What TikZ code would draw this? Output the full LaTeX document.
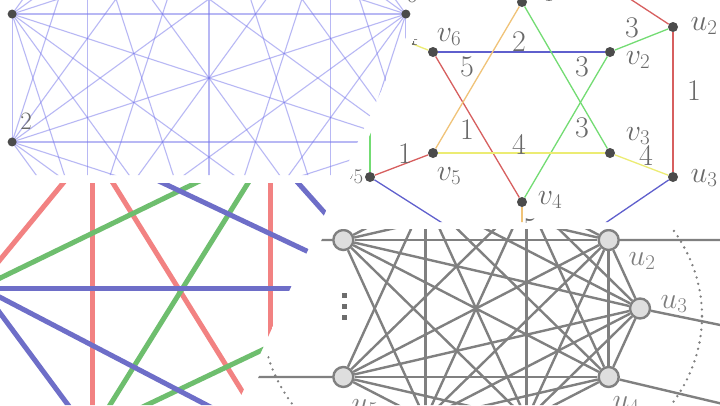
\RequirePackage{fix-cm}
\documentclass[tikz,border=0pt]{standalone}
\definecolor{kblue}{RGB}{115,115,235}
\definecolor{dotgray}{RGB}{75,75,75}
\definecolor{lblgray}{RGB}{105,105,105}
\definecolor{sBlue}{RGB}{95,95,205}
\definecolor{sRed}{RGB}{215,95,95}
\definecolor{sOrange}{RGB}{240,195,120}
\definecolor{sGreen}{RGB}{115,220,115}
\definecolor{sYellow}{RGB}{236,236,115}
\definecolor{zRed}{RGB}{242,130,130}
\definecolor{zGreen}{RGB}{110,190,110}
\definecolor{zBlue}{RGB}{110,110,200}
\definecolor{kGray}{RGB}{128,128,128}
\definecolor{kFill}{RGB}{222,222,222}
\definecolor{klblgray}{RGB}{125,125,125}
\begin{document}
\begin{tikzpicture}[x=1pt, y=-1pt, >=latex,
    kline/.style={kblue, line width=1.1pt, opacity=0.5},
    sdot/.style={circle, fill=dotgray, inner sep=0pt, minimum size=10pt},
    sedge/.style={line width=1.3pt},
    slbl/.style={text=lblgray, inner sep=0pt, font=\fontsize{30}{32}\selectfont},
    zline/.style={line width=5pt},
    knode/.style={circle, draw=kGray, fill=kFill, line width=2.4pt, inner sep=0pt, minimum size=20pt},
    kedge/.style={kGray, line width=2.4pt},
    klbl/.style={text=klblgray, inner sep=0pt, font=\fontsize{30}{32}\selectfont}]
    % ==== DEFINITIONS ====
    \def\slant{0.46} % slope of the dividers
    \def\gapL{423} % right edge of the left panels at the top
    \def\gapR{432} % left edge of the right panels at the top

    % ==== CANVAS ====
    \useasboundingbox (0,0) rectangle (720,405);
    \fill[white] (0,0) rectangle (720,405);

    % ==== PANEL 1: BLUE K10 ====
    \begin{scope}
        \clip (0,0) -- (\gapL,0) -- ({\gapL-\slant*175},175) -- (0,175) -- cycle;
        \foreach \k in {0,...,9}
            \coordinate (b\k) at ({209+207*cos(18+36*\k)}, {78-207*sin(18+36*\k)});
        \foreach \k in {0,...,8} {
            \pgfmathtruncatemacro{\kNext}{\k+1}
            \foreach \m in {\kNext,...,9}
                \draw[kline] (b\k) -- (b\m);
        }
        \foreach \k in {0,4,5}
            \node[sdot, minimum size=9pt] (bdot\k) at (b\k) {};
        \node[text=lblgray, font=\fontsize{25}{27}\selectfont] (lb5) at (26,121) {2};
        \node[text=lblgray, font=\fontsize{25}{27}\selectfont] (lb0) at (412,-6) {6};
    \end{scope}

    % ==== PANEL 2: WEIGHTED STAR ====
    \begin{scope}
        \clip (\gapR,0) -- (720,0) -- (720,222) -- ({\gapR-\slant*222},222) -- cycle;
        \node[sdot] (v1) at (522,2) {};
        \node[sdot] (v2) at (610,52) {};
        \node[sdot] (v3) at (610,153) {};
        \node[sdot] (v4) at (522,202) {};
        \node[sdot] (v5) at (433,153) {};
        \node[sdot] (v6) at (433,52) {};
        \node[sdot] (u2) at (673,27) {};
        \node[sdot] (u3) at (673,177) {};
        \node[sdot] (u5) at (370,177) {};
        \coordinate (v6out) at (395,37);
        \coordinate (v4out) at (522,232);
        \coordinate (u2out) at (618,-9);
        \coordinate (u3out) at (598,228);
        \coordinate (u5up) at (370,120);
        \coordinate (u5out) at (447,226);
        % inner star
        \draw[sedge, sBlue] (v6) -- (v2);
        \draw[sedge, sRed] (v6) -- (v4);
        \draw[sedge, sOrange] (v5) -- (v1);
        \draw[sedge, sGreen] (v1) -- (v3);
        \draw[sedge, sGreen] (v2) -- (v4);
        \draw[sedge, sYellow] (v5) -- (v3);
        % outer ring
        \draw[sedge, sGreen] (v2) -- (u2);
        \draw[sedge, sRed] (u2) -- (u3);
        \draw[sedge, sYellow] (v3) -- (u3);
        \draw[sedge, sRed] (v5) -- (u5);
        \draw[sedge, sRed] (u2) -- (u2out);
        \draw[sedge, sBlue] (u3) -- (u3out);
        \draw[sedge, sGreen] (u5) -- (u5up);
        \draw[sedge, sBlue] (u5) -- (u5out);
        \draw[sedge, sYellow] (v6) -- (v6out);
        \draw[sedge, sOrange] (v4) -- (v4out);
        % vertex labels
        \node[slbl] (lv1) at (542,-7) {$v_1$};
        \node[slbl] (lv2) at (638,60) {$v_2$};
        \node[slbl] (lv3) at (638,136) {$v_3$};
        \node[slbl] (lv4) at (550,200) {$v_4$};
        \node[slbl] (lv5) at (449,176) {$v_5$};
        \node[slbl] (lv6) at (449,37) {$v_6$};
        \node[slbl] (lu2) at (704,26) {$u_2$};
        \node[slbl] (lu3) at (704,178) {$u_3$};
        \node[slbl, anchor=east] (lu5) at (364,175) {$u_5$};
        % weights
        \node[slbl] (w62) at (519,42) {2};
        \node[slbl] (w64) at (467,67) {5};
        \node[slbl] (w24) at (582,67) {3};
        \node[slbl] (w51) at (467,130) {1};
        \node[slbl] (w53) at (519,144) {4};
        \node[slbl] (w13) at (582,128) {3};
        \node[slbl] (w2u) at (632,28) {3};
        \node[slbl] (wuu) at (694,91) {1};
        \node[slbl] (w3u) at (646,155) {4};
        \node[slbl] (w5u) at (405,154) {1};
        \node[slbl] (w6o) at (411,35) {4};
        \node[slbl] (w4o) at (530,229) {5};
    \end{scope}

    % ==== PANEL 3: ZOOMED EDGES ====
    \begin{scope}
        \clip (0,183) -- ({\gapL-\slant*183},183) -- ({\gapL-\slant*405},405) -- (0,405) -- cycle;
        \draw[zline, zRed] (-10,272) -- (73,171);
        \draw[zline, zRed] (92,175) -- (92,415);
        \draw[zline, zRed] (108,175) -- (255,412);
        \draw[zline, zRed] (270,175) -- (270,415);
        \draw[zline, zGreen] (-10,283) -- (212,175);
        \draw[zline, zGreen] (253,175) -- (105,413);
        \draw[zline, zGreen] (130,413) -- (300,332);
        \draw[zline, zBlue] (146,175) -- (330,262);
        \draw[zline, zBlue] (291,175) -- (340,230);
        \draw[zline, zBlue] (-10,288) -- (330,288);
        \draw[zline, zBlue] (-10,292) -- (222,413);
        \draw[zline, zBlue] (-10,299.5) -- (74,413);
    \end{scope}

    % ==== PANEL 4: GRAY CLIQUE ====
    \begin{scope}
        \clip ({\gapR-\slant*229},229) -- (720,229) -- (720,405) -- ({\gapR-\slant*405},405) -- cycle;
        \draw[kGray, line width=2.6pt, dash pattern=on 0pt off 6.5pt, line cap=round]
            (482,316) ellipse [x radius=220pt, y radius=174pt];
        \foreach \k/\ang in {1/0, 2/36, 3/72, 4/108, 5/144, 6/216, 7/252, 8/288, 9/324}
            \node[knode] (c\k) at ({476+164*cos(\ang)}, {308.5-116.5*sin(\ang)}) {};
        \foreach \k in {1,...,8} {
            \pgfmathtruncatemacro{\kNext}{\k+1}
            \foreach \m in {\kNext,...,9} {
                \ifnum\k\m=56 \else \draw[kedge] (c\k) -- (c\m); \fi
            }
        }
        \coordinate (c5out) at (250,240);
        \coordinate (c6out) at (230,377);
        \coordinate (c2out) at (730,240);
        \coordinate (c1out) at (730,327);
        \coordinate (c9out) at (740,408);
        \draw[kedge] (c5) -- (c5out);
        \draw[kedge] (c6) -- (c6out);
        \draw[kedge] (c2) -- (c2out);
        \draw[kedge] (c1) -- (c1out);
        \draw[kedge] (c9) -- (c9out);
        % vertical ellipsis
        \foreach \yy in {295,306,317}
            \fill[kGray!85!black] (341.5,\yy-2.5) rectangle (346.5,\yy+2.5);
        \node[klbl] (lc2) at (642,261) {$u_2$};
        \node[klbl] (lc1) at (674,304) {$u_3$};
        \node[klbl] (lc9) at (626,405) {$u_4$};
        \node[klbl] (lc6) at (365,408) {$u_5$};
    \end{scope}

\end{tikzpicture}
\end{document}
